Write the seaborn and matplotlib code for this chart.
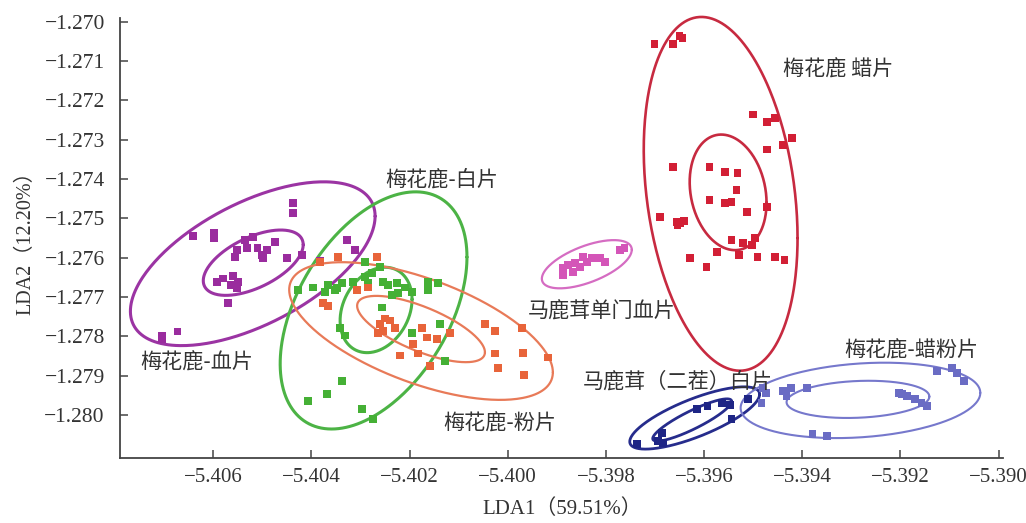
import numpy as np
import pandas as pd
import matplotlib
matplotlib.use("Agg")
import matplotlib.pyplot as plt
import seaborn as sns

# ---------------- data ----------------
groups = ["梅花鹿-血片", "梅花鹿-白片", "梅花鹿-粉片", "马鹿茸单门血片",
          "梅花鹿 蜡片", "马鹿茸（二茬）白片", "梅花鹿-蜡粉片"]

xueyp_x = [-5.40437, -5.40437, -5.40598, -5.40598, -5.40641, -5.40519, -5.40474, -5.40327,
           -5.40551, -5.40531, -5.40510, -5.40490, -5.40500, -5.40555, -5.40498, -5.40449,
           -5.40419, -5.40382, -5.40311, -5.40592, -5.40580, -5.40559, -5.40549, -5.40565,
           -5.40551, -5.40570, -5.40673, -5.40704, -5.40704, -5.40535]
xueyp_y = [-1.27461, -1.27486, -1.27538, -1.27550, -1.27545, -1.27548, -1.27561, -1.27555,
           -1.27581, -1.27576, -1.27576, -1.27581, -1.27594, -1.27599, -1.27601, -1.27601,
           -1.27594, -1.27609, -1.27581, -1.27663, -1.27653, -1.27647, -1.27663, -1.27670,
           -1.27678, -1.27716, -1.27788, -1.27798, -1.27806, -1.27555]

baip_x = [-5.40427, -5.40397, -5.40366, -5.40348, -5.40338, -5.40315, -5.40291, -5.40276,
          -5.40260, -5.40291, -5.40285, -5.40254, -5.40244, -5.40226, -5.40209, -5.40195,
          -5.40236, -5.40256, -5.40224, -5.40162, -5.40162, -5.40142, -5.40342, -5.40331,
          -5.40195, -5.40138, -5.40338, -5.40368, -5.40407, -5.40297, -5.40274, -5.40352,
          -5.40372, -5.40128]
baip_y = [-1.27683, -1.27676, -1.27670, -1.27678, -1.27665, -1.27663, -1.27650, -1.27640,
          -1.27624, -1.27612, -1.27665, -1.27663, -1.27670, -1.27665, -1.27676, -1.27688,
          -1.27696, -1.27727, -1.27691, -1.27663, -1.27683, -1.27665, -1.27778, -1.27798,
          -1.27791, -1.27768, -1.27913, -1.27947, -1.27964, -1.27985, -1.28010, -1.27683,
          -1.27688, -1.27862]

fenp_x = [-5.40376, -5.40366, -5.40346, -5.40266, -5.40307, -5.40285, -5.40260, -5.40254,
          -5.40240, -5.40250, -5.40264, -5.40230, -5.40193, -5.40220, -5.40183, -5.40158,
          -5.40165, -5.40144, -5.40118, -5.40175, -5.40047, -5.40026, -5.39971, -5.40026,
          -5.40020, -5.39969, -5.39967, -5.39918, -5.40382]
fenp_y = [-1.27716, -1.27722, -1.27599, -1.27599, -1.27683, -1.27676, -1.27768, -1.27786,
          -1.27760, -1.27755, -1.27791, -1.27780, -1.27819, -1.27849, -1.27844, -1.27875,
          -1.27803, -1.27806, -1.27791, -1.27778, -1.27768, -1.27786, -1.27778, -1.27844,
          -1.27880, -1.27842, -1.27898, -1.27854, -1.27612]

mlr_x = [-5.39888, -5.39878, -5.39863, -5.39853, -5.39867, -5.39839, -5.39829, -5.39812,
         -5.39802, -5.39772, -5.39762, -5.39847, -5.39888]
mlr_y = [-1.27627, -1.27619, -1.27614, -1.27624, -1.27637, -1.27612, -1.27601, -1.27601,
         -1.27612, -1.27581, -1.27576, -1.27599, -1.27645]

lap_x = [-5.39701, -5.39664, -5.39650, -5.39644, -5.39501, -5.39471, -5.39456, -5.39420,
         -5.39440, -5.39471, -5.39664, -5.39589, -5.39558, -5.39532, -5.39534, -5.39589,
         -5.39558, -5.39544, -5.39513, -5.39471, -5.39690, -5.39656, -5.39648, -5.39640,
         -5.39654, -5.39544, -5.39521, -5.39497, -5.39503, -5.39574, -5.39528, -5.39491,
         -5.39629, -5.39595, -5.39456, -5.39436]
lap_y = [-1.27057, -1.27057, -1.27037, -1.27042, -1.27236, -1.27254, -1.27244, -1.27295,
         -1.27313, -1.27325, -1.27369, -1.27369, -1.27382, -1.27384, -1.27428, -1.27453,
         -1.27461, -1.27458, -1.27484, -1.27471, -1.27497, -1.27509, -1.27512, -1.27507,
         -1.27517, -1.27555, -1.27563, -1.27550, -1.27568, -1.27586, -1.27594, -1.27599,
         -1.27601, -1.27624, -1.27599, -1.27607]

ec_x = [-5.39737, -5.39694, -5.39684, -5.39686, -5.39615, -5.39593, -5.39564, -5.39548,
        -5.39544, -5.39511]
ec_y = [-1.28074, -1.28067, -1.28072, -1.28046, -1.27985, -1.27977, -1.27969, -1.27975,
        -1.28010, -1.27959]

lafen_x = [-5.39481, -5.39473, -5.39440, -5.39432, -5.39422, -5.39391, -5.39483, -5.39125,
           -5.39094, -5.39084, -5.39070, -5.39202, -5.39196, -5.39186, -5.39171, -5.39157,
           -5.39145, -5.39379, -5.39349]
lafen_y = [-1.27931, -1.27944, -1.27939, -1.27952, -1.27931, -1.27931, -1.27969, -1.27888,
           -1.27880, -1.27893, -1.27913, -1.27944, -1.27947, -1.27952, -1.27959, -1.27969,
           -1.27977, -1.28049, -1.28054]

# ellipses: group, center x, center y, half-width, half-height, correlation
ell_group = ["梅花鹿-血片", "梅花鹿-血片", "梅花鹿-白片", "梅花鹿-白片",
             "梅花鹿-粉片", "梅花鹿-粉片", "马鹿茸单门血片",
             "梅花鹿 蜡片", "梅花鹿 蜡片", "马鹿茸（二茬）白片", "马鹿茸（二茬）白片",
             "梅花鹿-蜡粉片", "梅花鹿-蜡粉片"]
ell_cx = [-5.405196, -5.405186, -5.402734, -5.402683, -5.401767, -5.401767, -5.398389,
          -5.395662, -5.395510, -5.396191, -5.396242, -5.392813, -5.392864]
ell_cy = [-1.276155, -1.276129, -1.277343, -1.277331, -1.277867, -1.277816, -1.276168,
          -1.274378, -1.274340, -1.280078, -1.280129, -1.279631, -1.279605]
ell_sx = [0.002493, 0.001018, 0.001903, 0.000733, 0.002686, 0.001302, 0.000916,
          0.001567, 0.000783, 0.001323, 0.000804, 0.002442, 0.001455]
ell_sy = [0.002083, 0.000831, 0.003016, 0.001086, 0.001751, 0.000843, 0.000613,
          0.004499, 0.001470, 0.000792, 0.000537, 0.000959, 0.000473]
ell_rho = [0.58, 0.55, 0.45, 0.25, -0.60, -0.70, 0.60,
           -0.25, -0.18, 0.76, 0.88, 0.20, 0.15]

xticks = [-5.406, -5.404, -5.402, -5.400, -5.398, -5.396, -5.394, -5.392, -5.390]
yticks = [-1.280, -1.279, -1.278, -1.277, -1.276, -1.275, -1.274, -1.273, -1.272, -1.271, -1.270]

# ---------------- styling ----------------
pt_colors = {"梅花鹿-血片": "#9a2c9e", "梅花鹿-白片": "#45b035", "梅花鹿-粉片": "#e8643a",
             "马鹿茸单门血片": "#d455b8", "梅花鹿 蜡片": "#d21f35",
             "马鹿茸（二茬）白片": "#1e2585", "梅花鹿-蜡粉片": "#6a6cc4"}
ln_colors = {"梅花鹿-血片": "#9b34a3", "梅花鹿-白片": "#4cb345", "梅花鹿-粉片": "#e87a58",
             "马鹿茸单门血片": "#d56cc2", "梅花鹿 蜡片": "#c72a40",
             "马鹿茸（二茬）白片": "#262c8c", "梅花鹿-蜡粉片": "#7678cc"}
ln_widths = {"梅花鹿-血片": 2.2, "梅花鹿-白片": 2.2, "梅花鹿-粉片": 1.6,
             "马鹿茸单门血片": 1.6, "梅花鹿 蜡片": 1.9,
             "马鹿茸（二茬）白片": 2.0, "梅花鹿-蜡粉片": 1.5}

sns.set_theme(style="white")
plt.rcParams['font.family'] = ['Liberation Serif', 'Noto Sans CJK SC', 'DejaVu Sans']
plt.rcParams['axes.unicode_minus'] = True

fig = plt.figure(figsize=(10.26, 5.23), dpi=100)
ax = fig.add_axes([0.117, 0.124, 0.861, 0.842])

frames = []
for g, xs, ys in [("梅花鹿-血片", xueyp_x, xueyp_y), ("梅花鹿-白片", baip_x, baip_y),
                  ("梅花鹿-粉片", fenp_x, fenp_y), ("马鹿茸单门血片", mlr_x, mlr_y),
                  ("梅花鹿 蜡片", lap_x, lap_y), ("马鹿茸（二茬）白片", ec_x, ec_y),
                  ("梅花鹿-蜡粉片", lafen_x, lafen_y)]:
    frames.append(pd.DataFrame({"LDA1": xs, "LDA2": ys, "group": g}))
df = pd.concat(frames, ignore_index=True)

# ellipses
t = np.linspace(0, 2 * np.pi, 300)
for g, cx, cy, sx, sy, r in zip(ell_group, ell_cx, ell_cy, ell_sx, ell_sy, ell_rho):
    ex = cx + sx * np.cos(t)
    ey = cy + sy * (r * np.cos(t) + np.sqrt(1 - r * r) * np.sin(t))
    ax.plot(ex, ey, color=ln_colors[g], lw=ln_widths[g], zorder=2,
            solid_capstyle='round', clip_on=False)

sns.scatterplot(data=df, x="LDA1", y="LDA2", hue="group", palette=pt_colors,
                marker="s", s=32, linewidth=0, legend=False, ax=ax, zorder=3)

# labels
lab_kw = dict(fontsize=15.2, color="#333333", va="center", ha="left",
              family=['Noto Sans CJK SC', 'DejaVu Sans'])
ax.text(-5.39440, -1.27121, "梅花鹿 蜡片", **lab_kw)
ax.text(-5.40250, -1.27402, "梅花鹿-白片", **lab_kw)
ax.text(-5.39959, -1.27737, "马鹿茸单门血片", **lab_kw)
ax.text(-5.40749, -1.27867, "梅花鹿-血片", **lab_kw)
ax.text(-5.39847, -1.27916, "马鹿茸（二茬）白片", **lab_kw)
ax.text(-5.39314, -1.27837, "梅花鹿-蜡粉片", **lab_kw)
ax.text(-5.40132, -1.28021, "梅花鹿-粉片", **lab_kw)

ax.set_xlim(-5.4079, -5.3899)
ax.set_ylim(-1.2811, -1.2699)
ax.set_xticks(xticks)
ax.set_yticks(yticks)
ax.set_xticklabels([f"{v:.3f}".replace("-", "\u2212") for v in xticks])
ax.set_yticklabels([f"{v:.3f}".replace("-", "\u2212") for v in yticks])
ax.tick_params(axis="both", direction="in", length=6, width=1.1, colors="#444444",
               labelcolor="#333333", left=True, bottom=True)
ax.tick_params(axis="x", labelsize=15, pad=7)
ax.tick_params(axis="y", labelsize=15.5, pad=11)

for side in ["top", "right"]:
    ax.spines[side].set_visible(False)
for side in ["left", "bottom"]:
    ax.spines[side].set_color("#444444")
    ax.spines[side].set_linewidth(1.3)

ax.set_xlabel("LDA1（59.51%）", fontsize=15, color="#333333",
              family=['Liberation Serif', 'Noto Sans CJK SC'], labelpad=9)
ax.set_ylabel("LDA2（12.20%）", fontsize=14.5, color="#333333",
              family=['Liberation Serif', 'Noto Sans CJK SC'], labelpad=6)

fig.savefig("out.png", dpi=100, facecolor="white")
